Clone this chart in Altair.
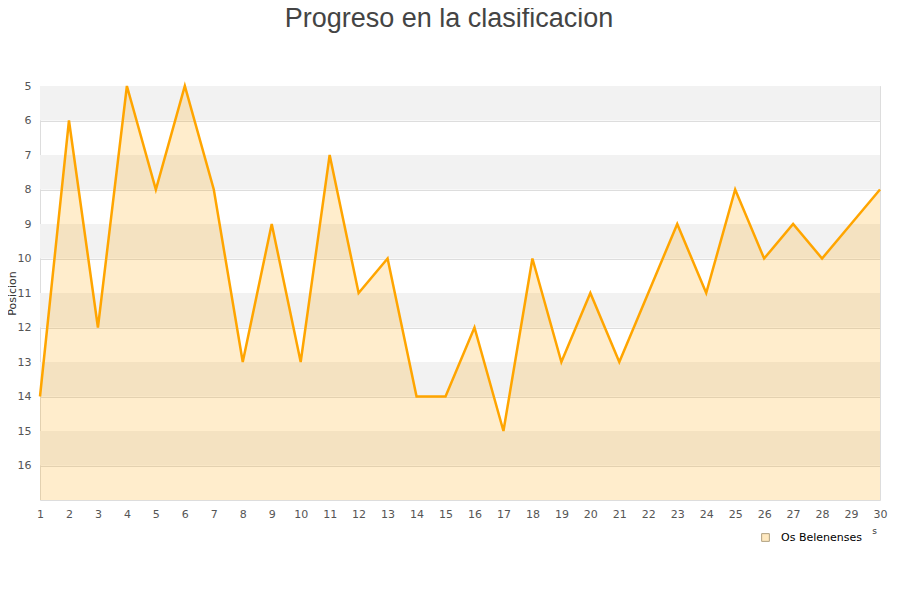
import pandas as pd
import altair as alt

jornadas = list(range(1, 31))
posiciones = [14, 6, 12, 5, 8, 5, 8, 13, 9, 13, 7, 11, 10, 14, 14,
              12, 15, 10, 13, 11, 13, 11, 9, 11, 8, 10, 9, 10, 9, 8]
equipo = "Os Belenenses"

band_inicio = [5, 7, 9, 11, 13, 15]
band_fin = [6, 8, 10, 12, 14, 16]

df = pd.DataFrame({"jornada": jornadas, "posicion": posiciones, "equipo": equipo})
bands = pd.DataFrame({"y0": band_inicio, "y1": band_fin})

x_scale = alt.Scale(domain=[1, 30], nice=False, zero=False)
y_scale = alt.Scale(domain=[5, 17], reverse=True, nice=False, zero=False)

y_axis = alt.Axis(
    title="Posicion", values=list(range(5, 17)), grid=True, gridColor="#dddddd",
    domain=False, ticks=False, labelColor="#555555", labelFontSize=11,
    labelFont="DejaVu Sans", labelPadding=9, labelOverlap=False,
    titleFont="DejaVu Sans", titleFontSize=11, titleFontWeight="normal",
    titleColor="#333333", titleX=-23, titleY=207, titleAngle=-90,
    titleAlign="center", titleBaseline="bottom",
)
x_axis = alt.Axis(
    title="s", values=jornadas, grid=False, domain=False, ticks=False,
    labelColor="#555555", labelFontSize=11, labelFont="DejaVu Sans",
    labelPadding=8, labelOverlap=False, labelFlush=False,
    titleFont="DejaVu Sans", titleFontSize=9,
    titleFontWeight="normal", titleColor="#333333", titleX=834, titleY=26,
)

band_layer = alt.Chart(bands).mark_rect(color="#f2f2f2").encode(
    y=alt.Y("y0:Q", scale=y_scale, axis=y_axis),
    y2="y1:Q",
    x=alt.value(0),
    x2=alt.value(840),
)

area_layer = alt.Chart(df).mark_area(opacity=0.2, color="#ffa500").encode(
    x=alt.X("jornada:Q", scale=x_scale, axis=x_axis),
    y=alt.Y("posicion:Q", scale=y_scale, axis=y_axis),
    y2=alt.datum(17),
)

line_layer = alt.Chart(df).mark_line(color="#ffa500", strokeWidth=2.5).encode(
    x=alt.X("jornada:Q", scale=x_scale, axis=x_axis),
    y=alt.Y("posicion:Q", scale=y_scale, axis=y_axis),
)

legend_layer = alt.Chart(df).mark_point(opacity=0).encode(
    x=alt.X("jornada:Q", scale=x_scale, axis=x_axis),
    y=alt.Y("posicion:Q", scale=y_scale, axis=y_axis),
    fill=alt.Fill(
        "equipo:N",
        scale=alt.Scale(range=["#ffe9c0"]),
        legend=alt.Legend(
            title=None, orient="none", legendX=720, legendY=446,
            symbolType="square", symbolSize=60, symbolStrokeColor="#b0a080",
            symbolStrokeWidth=1, symbolOpacity=1, labelFontSize=11,
            labelFont="DejaVu Sans", labelColor="#000000", labelOffset=10,
        ),
    ),
)

chart = alt.layer(band_layer, area_layer, line_layer, legend_layer).resolve_axis(
    y="shared", x="shared"
).properties(
    width=840,
    height=414,
    title=alt.TitleParams(
        "Progreso en la clasificacion", fontSize=27, font="Liberation Sans",
        fontWeight="normal", color="#444444", anchor="middle", dx=-11, offset=47,
    ),
    padding={"left": 32, "top": 78, "right": 12, "bottom": 70},
    autosize=alt.AutoSizeParams(type="none"),
).configure_view(stroke="#dddddd")

chart.save("out.html", embed_options={"renderer": "svg", "actions": False})
